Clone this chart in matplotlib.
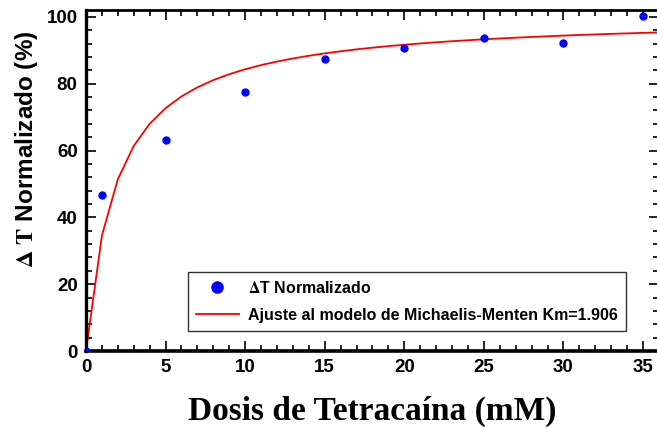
import matplotlib
matplotlib.use("Agg")
import matplotlib.pyplot as plt
from matplotlib.ticker import MultipleLocator

# Datos medidos
dosis = [0, 1, 5, 10, 15, 20, 25, 30, 35]
delta_t = [0, 46.6, 63.3, 77.5, 87.3, 90.6, 93.7, 92.1, 100.2]

# Curva de ajuste (Michaelis-Menten, Km=1.906), muestreada en enteros
dosis_ajuste = list(range(0, 37))
ajuste = [0, 34.55, 51.41, 61.39, 68.00, 72.69, 76.20, 78.91, 81.08, 82.85,
          84.33, 85.57, 86.64, 87.56, 88.37, 89.08, 89.71, 90.28, 90.79, 91.25,
          91.66, 92.05, 92.40, 92.72, 93.01, 93.29, 93.54, 93.78, 94.00, 94.21,
          94.40, 94.59, 94.76, 94.92, 95.07, 95.22, 95.35]

plt.rcParams['font.family'] = 'Liberation Sans'
plt.rcParams['font.weight'] = 'bold'
plt.rcParams['mathtext.fontset'] = 'stix'

fig = plt.figure(figsize=(6.57, 4.28), dpi=100)
ax = fig.add_axes([0.1309, 0.1799, 0.872, 0.797])

ax.plot(dosis_ajuste, ajuste, color='red', lw=1.3,
        label='Ajuste al modelo de Michaelis-Menten Km=1.906', zorder=2)
ax.plot(dosis, delta_t, 'o', color='blue', ms=5, mec='blue',
        label=r'$\Delta$T Normalizado', zorder=3)

ax.set_xlim(0, 36)
ax.set_ylim(0, 102.1)
ax.xaxis.set_major_locator(MultipleLocator(5))
ax.xaxis.set_minor_locator(MultipleLocator(1))
ax.yaxis.set_major_locator(MultipleLocator(20))
ax.yaxis.set_minor_locator(MultipleLocator(4))

ax.tick_params(which='both', direction='in', top=True, right=True,
               labelsize=13.5, width=1.2, pad=6)
ax.tick_params(which='major', length=7)
ax.tick_params(which='minor', length=4)
for s in ax.spines.values():
    s.set_linewidth(2)
ax.spines['bottom'].set_linewidth(2.6)
ax.spines['left'].set_linewidth(2.4)

ax.set_xlabel('Dosis de Tetracaína (mM)', family='Liberation Serif',
              fontsize=24, fontweight='bold', labelpad=14)
ax.set_ylabel(r'$\Delta\ \mathbf{T}$ Normalizado (%)', fontsize=17.5,
              fontweight='bold')
ax.yaxis.set_label_coords(-0.081, 0.592)

handles, labels = ax.get_legend_handles_labels()
leg = ax.legend(handles[::-1], labels[::-1], loc='lower right',
                bbox_to_anchor=(0.942, 0.059), fontsize=11.5, frameon=True,
                fancybox=False, edgecolor='black', markerscale=1.6,
                handlelength=2.7, handletextpad=0.55, borderpad=0.5,
                labelspacing=0.75, borderaxespad=0)
leg.get_frame().set_linewidth(1.0)

fig.savefig('out.png', dpi=100)
